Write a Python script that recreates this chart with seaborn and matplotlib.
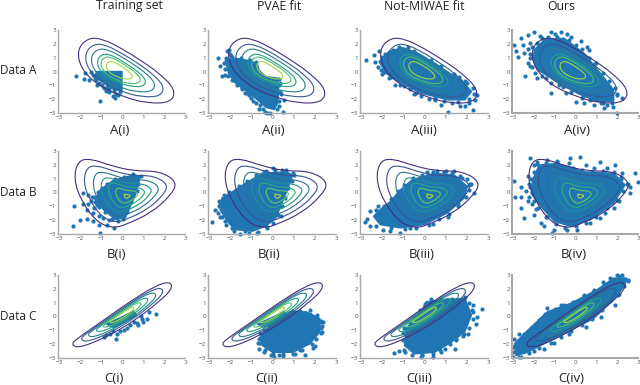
import numpy as np
import pandas as pd
import matplotlib
matplotlib.use("Agg")
import matplotlib.pyplot as plt
from matplotlib.path import Path
from matplotlib.patches import PathPatch
import seaborn as sns

sns.set_style("white")
plt.rcParams['font.family'] = ['Open Sans', 'DejaVu Sans']

COLUMN_TITLES = ["Training set", "PVAE fit", "Not-MIWAE fit", "Ours"]
ROW_LABELS = ["Data A", "Data B", "Data C"]
SUB_LABELS = [["A(i)", "A(ii)", "A(iii)", "A(iv)"],
              ["B(i)", "B(ii)", "B(iii)", "B(iv)"],
              ["C(i)", "C(ii)", "C(iii)", "C(iv)"]]
TICKS = [-3, -2, -1, 0, 1, 2, 3]

# density contours: outer outline, centre, and relative size of each level
A_OUTLINE = [(-2.15, 1.6), (-1.6, 2.45), (-.9, 2.35), (0.0, 1.65), (0.9, 0.8), (1.75, -0.1), (2.55, -1.3),
             (2.35, -2.25), (1.2, -2.3), (0.1, -1.85), (-1.05, -1.1), (-1.95, 0.15)]
A_CENTER = (-0.25, 0.1)
A_LEVELS = [1, .81, .66, .5, .41, .27]
B_OUTLINE = [(-2.3, 1.0), (-2.1, 2.3), (-1.5, 2.45), (-0.55, 1.95), (0.55, 1.55), (1.8, 1.55), (2.65, 0.75),
             (2.3, -0.25), (1.4, -1.45), (0.3, -2.25), (-0.4, -2.6), (-1.2, -2.15), (-1.95, -0.6)]
B_CENTER = (0.25, -0.28)
B_LEVELS = [1, .82, .65, .5, .36, .22, .06]
C_OUTLINE = [(-2.45, -2.0), (-2.05, -2.3), (-0.7, -1.45), (0.6, -0.3), (1.75, 1.05), (2.4, 2.0), (2.3, 2.55),
             (1.55, 2.2), (0.25, 0.95), (-1.05, -0.45), (-2.0, -1.45)]
C_CENTER = (0.0, 0.1)
C_LEVELS = [1, .82, .68, .52, .38, .24]

# dense part of each sample cloud (outline) and the separate points around it
A1_CORE = [(-1.2, 0), (0, 0), (0, -1.4), (-.4, -1.3), (-.9, -.8), (-1.3, -.3)]
A1_PTS = [(-2.2, -.3), (-1.8, -.55), (-1.55, -.6), (-1.75, -.1), (-1.5, -.05), (-1.4, -.25), (-1.3, -.5), (-1.25, -.65),
          (-1.1, -.8), (-1.2, -.95), (-.95, -1.0), (-.85, -1.2), (-.7, -1.1), (-1.05, -2.1), (-.75, -1.4), (-.6, -1.5),
          (-.4, -1.4), (-.45, -1.75), (-.3, -1.6), (-.1, -1.45), (-.35, -1.9), (-.2, -1.7), (-.6, -1.25)]
A2_CORE = [(-2.24, .84), (-1.76, .96), (-1.28, .84), (-.72, .6), (-.64, .1), (-.32, -.36), (.24, -.48), (.29, -1.3),
           (.24, -2.3), (.08, -2.75), (-.3, -2.6), (-.75, -2.0), (-1.35, -1.3), (-1.75, -.85), (-2.08, -.12)]
A2_PTS = [(-2.6, .94), (-2.5, .43), (-2.16, 1.45), (-2.08, 1.56), (-2.24, -.24), (-2.4, -.35), (-1.9, -.6), (-.24, -3),
          (.48, -2.9), (.32, -2.5), (-.64, -2.7), (-.8, -2.3), (-1.2, -1.56), (-1.44, -1.2), (.56, -2.05), (-2.0, 1.3),
          (-1.95, 1.1), (-1.1, -1.7), (.4, -1.6), (.35, -.8),
          (-2.2, 1.0), (-2.3, .6), (-2.25, .2), (-2.1, -.3), (-1.85, -.6), (-1.7, -1.0), (-1.45, -1.25), (-1.3, -1.55),
          (-1.0, -1.9), (-.9, -2.15), (-.6, -2.4), (-.45, -2.7), (-.35, -2.95), (-.1, -3), (.2, -2.7), (.3, -2.1),
          (.35, -1.5), (.32, -1), (.3, -.55), (-1.9, 1.05), (-1.5, .95), (-1.05, .8), (-.8, .7)]
A3_CORE = [(-2.15, .72), (-1.67, 1.45), (-1.03, 1.73), (-.32, 1.33), (.48, .6), (1.19, -.12), (1.75, -.6), (2.22, -1.45),
           (1.9, -2.05), (1.11, -2.05), (-.16, -1.57), (-1.27, -.72), (-1.83, -.12)]
A3_PTS = [(-2.78, .84), (-2.38, 1.2), (-2.15, 1.45), (-2.35, .7), (-2.07, .12), (-1.67, -.48), (-.95, -1.08), (-.16, -1.8),
          (.48, -2.05), (.8, -2.4), (1.11, -2.9), (1.67, -2.53), (1.9, -2.53), (2.3, -2.77), (2.47, -1.69), (2.39, -2.05),
          (1.43, -.48), (1.9, -.7), (-.5, -1.65), (.2, -2.0), (1.3, -2.3), (2.1, -2.25), (-1.4, -.95), (-1.9, .0),
          (-2.0, 1.05), (-1.85, 1.3), (-1.5, 1.55), (-1.2, 1.8), (-.8, 1.75), (-.5, 1.5), (.3, .85), (.8, .4), (1.4, -.2),
          (1.65, -.4), (2.0, -.85), (2.3, -1.2), (2.35, -1.6), (2.1, -2.0), (1.6, -2.2), (.9, -2.15), (.5, -1.95), (-.4, -1.55),
          (-.7, -1.3), (-1.15, -.95), (-1.6, -.4), (-2.0, -.15), (-2.2, .3)]
A4_CORE = [(-1.98, 1.57), (-1.5, 2.29), (-.55, 2.41), (.4, 1.33), (1.19, -.12), (1.83, -1.33), (1.83, -2.17), (1.03, -2.17),
           (.08, -1.57), (-1.03, -.6), (-1.83, .12), (-2.03, .84)]
A4_PTS = [(-2.97, 1.93), (-2.86, 1.45), (-2.78, 1.08), (-2.62, 2.41), (-2.3, 2.65), (-1.98, 2.89), (-1.2, 2.89), (-.71, 2.89),
          (-2.2, 2.05), (-2.46, 1.33), (-2.3, .6), (-2.43, -.31), (-1.83, -.48), (-1.2, -.84), (-1.2, -1.57), (-.48, -1.57),
          (0, -2.17), (.4, -2.29), (.71, -2.05), (1.35, -2.65), (1.98, -3), (2.22, -1.93), (1.8, -2.6), (1.2, -2.3),
          (.55, 1.8), (.63, 1.57), (.24, 2.17), (-.24, 2.53), (-1.7, 2.6), (-1.0, 2.7), (-2.3, 1.6), (-2.2, 1.0), (-2.1, .3),
          (-1.6, -.3), (-.8, -1.0), (.3, -1.9), (.9, -2.4), (1.5, -2.4), (2.0, -1.6), (1.0, .6), (-.4, 2.7), (-2.5, 1.9),
          (-2.2, 1.3), (-2.1, 1.75), (-1.85, 2.05), (-1.6, 2.4), (-1.3, 2.5), (-.9, 2.5), (-.3, 2.3), (0, 1.95), (.3, 1.6), (.65, 1.0),
          (.9, .55), (1.3, -.1), (1.6, -.7), (1.9, -1.2), (2.0, -1.7), (1.75, -2.3), (1.3, -2.25), (.75, -2.0), (.35, -1.75), (-.2, -1.5),
          (-.6, -1.15), (-1.4, -.5), (-1.95, -.1), (-2.2, .4)]
B1_CORE = [(-1.04, .19), (-.4, .9), (.56, 1.27), (.88, 1.15), (.64, -.17), (.16, -1.84), (-.32, -1.96), (-.88, -1.24), (-1.28, -.53)]
B1_PTS = [(-2.32, -2.44), (-2.29, -1), (-2, -2), (-1.87, -.05), (-1.6, -.15), (-1.85, -.8), (-1.5, -.65), (-1.65, -1.25),
          (-1.35, -1.1), (-1.65, -1.9), (-1.36, -2.08), (-1.12, -2.32), (-1.04, -2.9), (-.4, -2.6), (-.7, -2.32), (-1.1, -1.7),
          (-1.36, -1.45), (-.9, -1.85), (-1.45, -.3), (-1.6, -.8), (-.6, -2.0), (-1.2, -.9),
          (-1.15, .05), (-.95, .35), (-.7, .65), (-.35, 1.0), (.1, 1.15), (.5, 1.35), (.9, 1.2), (.75, .6), (.7, .1), (.45, -.7),
          (.25, -1.4), (.05, -1.9), (-.2, -2.05), (-.5, -1.9), (-.8, -1.4), (-1.1, -1.05), (-1.3, -.7), (-1.35, -.3)]
B2_CORE = [(-2.48, -1.24), (-2.4, -.41), (-2, -.05), (-1.28, .67), (-.48, 1.39), (.64, 1.5), (.96, 1.27), (.64, -.05),
           (.16, -1.84), (-.32, -2.44), (-.96, -2.8), (-1.76, -2.68), (-2.08, -2.2)]
B2_PTS = [(-2.88, -2.15), (-2.72, -1.24), (-2.56, -1.5), (-2.24, -2.08), (-1.92, -2.55), (-1.52, -3), (-1.12, -2.92), (-.72, -2.92),
          (-.32, -2.44), (0, 1.75), (.96, 1.39), (.64, 1.62), (-.3, 1.55), (-2.4, -1.8), (-2.5, -.8), (.4, -1.7),
          (-2.55, -1.0), (-2.55, -.6), (-2.3, -.2), (-2.05, .05), (-1.6, .45), (-1.2, .85), (-.8, 1.25), (-.4, 1.5), (.1, 1.6), (.45, 1.6),
          (1.0, 1.3), (.9, .8), (.75, .3), (.6, -.4), (.45, -1.0), (.25, -1.6), (0, -2.2), (-.25, -2.55), (-.7, -2.85), (-1.3, -2.8),
          (-1.8, -2.75), (-2.2, -2.35), (-2.5, -1.8)]
B3_CORE = [(-2.1, -1.24), (-1.62, -.65), (-1.14, .19), (-.59, .91), (.44, 1.39), (1.4, 1.27), (2.03, .43), (1.87, -.41),
           (1.08, -1.48), (0, -2.32), (-1.14, -2.56), (-2.1, -2.32), (-2.41, -1.72)]
B3_PTS = [(-2.81, -2.15), (-2.57, -1.36), (-2.57, -2.44), (-1.95, -2.7), (-1.62, -2.79), (-1.14, -2.9), (-.67, -2.55), (.13, 1.5),
          (.6, 1.58), (1.4, 1.58), (2.03, 1), (2.1, .55), (1.78, -.2), (2.35, .0), (2.2, .6), (1.7, 1.2), (1.0, 1.55), (.4, -2.3),
          (1.1, -1.8), (1.6, -1.0), (-2.7, -1.9), (-2.2, -.95),
          (-2.3, -1.3), (-1.9, -1.0), (-1.6, -.5), (-1.25, .1), (-.95, .55), (-.55, 1.05), (-.1, 1.3), (.4, 1.45), (.9, 1.45), (1.3, 1.4),
          (1.75, 1.05), (2.15, .6), (2.1, .2), (1.95, -.3), (1.6, -.85), (1.15, -1.55), (.7, -1.95), (.2, -2.35), (-.4, -2.55), (-.9, -2.65),
          (-1.6, -2.55), (-2.3, -2.4)]
B4_CORE = [(-2.06, .91), (-1.75, 1.99), (-.87, 2.1), (.4, 1.5), (1.83, 1.39), (2.38, .55), (1.83, -.77), (.71, -1.96),
           (-.24, -2.44), (-1.03, -2.08), (-1.67, -1), (-2.14, -.05)]
B4_PTS = [(-2.94, .86), (-2.89, -.29), (-2.62, -1.12), (-2.46, -1.84), (-2.17, 2.51), (-1.98, 1.99), (-2.62, .43), (-2.62, -.29),
          (-2.3, -.65), (-2.22, .65), (-1.83, 2.2), (-1.35, 2.34), (-.87, 2.3), (-.27, 2.46), (.21, 2.58), (1.19, 2.22), (1.9, 1.99),
          (2.86, 1.39), (3, .79), (2.62, -.05), (2.54, .65), (2.22, 1.39), (1.51, 1.75), (-1.03, -2.68), (-1.11, -2.92), (-.4, -2.68),
          (.08, -2.68), (-1.67, -2.2), (-1.98, -1.6), (.71, -2.2), (1.19, -1.84), (1.83, -1.12), (-1.5, -2.45), (.5, 2.0), (.9, 1.8),
          (-.3, 2.1), (2.2, 1.0), (2.6, .4), (-2.4, .1), (-2.1, -.8), (-1.9, -1.2), (-1.4, -1.8), (2.1, -.6), (1.4, -1.5), (-2.3, 1.2),
          (-2.2, .4), (-2.15, 1.0), (-2, 1.5), (-1.85, 2.05), (-1.4, 2.15), (-.9, 2.2), (-.5, 1.85), (-.1, 1.75), (.3, 1.6), (.8, 1.5),
          (1.3, 1.55), (1.85, 1.5), (2.2, 1.1), (2.45, .6), (2.3, .1), (2.0, -.55), (1.5, -1.15), (1, -1.75), (.5, -2.2), (0, -2.45),
          (-.5, -2.55), (-.95, -2.25), (-1.35, -1.75), (-1.8, -1.15), (-2.0, -.6), (-2.25, -.3)]
C1_CORE = [(-.75, -.55), (-.1, -.1), (.55, .4), (.7, .1), (.2, -.35), (-.4, -.8)]
C1_PTS = [(1.62, .2), (1.27, .3), (1.19, -.15), (.95, -.15), (.71, -.5), (.75, -.65), (.4, -.63), (.08, -1), (-.24, -1.24), (-.27, -1.6),
          (-.55, -1.24), (-.75, -1.37), (-.87, -1.5), (1.0, -.4), (.55, -.4), (.25, -.85), (-.1, -1.05), (-.45, -1.05), (.9, .05)]
C2_CORE = [(-.56, -1.37), (0, -.51), (.8, .34), (1.6, .34), (2.24, -.15), (2.24, -1.12), (1.76, -1.98), (.96, -2.59), (0, -2.59), (-.48, -2.1)]
C2_LINE = [(-.75, -.55), (-.1, -.1), (.55, .4), (.7, .1), (.2, -.35), (-.4, -.8)]
C2_PTS = [(-.4, -2.59), (-.08, -2.8), (.08, -2.95), (.48, -2.83), (1.04, -2.7), (1.52, -2.78), (-.64, -2.34), (-.64, -1.6), (1.76, .46),
          (2, -2.1), (1.1, .3), (2.24, -.4), (2.4, -.4), (2.3, -.8), (2.35, -1.1), (1.9, -2.25), (.3, -2.75), (1.3, -2.45), (-.7, -1.95),
          (-.6, -1.2), (-.4, -.95), (-.15, -.6), (.2, -.3), (.5, .1), (.9, .4), (1.3, .4), (1.75, .2), (2.1, .1), (2.3, -.3), (2.35, -.7),
          (2.3, -1.2), (2.05, -1.6), (1.85, -2), (1.4, -2.4), (.95, -2.7), (.5, -2.7), (0, -2.7), (-.35, -2.4), (-.6, -1.9), (-.6, -1.55)]
C3_CORE = [(-.87, -.88), (-.16, .34), (.08, 1.07), (.95, 1.2), (1.9, 1.32), (2.22, .1), (1.9, -1.12), (1.27, -1.85), (.48, -2.59),
           (-.48, -2.7), (-.95, -2.1)]
C3_PTS = [(-1.43, -2.63), (-1.19, -2.46), (-.16, -2.95), (.4, -2.9), (2.7, .51), (2.46, -.02), (2.3, .83), (2.41, -.51), (2.06, -1.24),
          (1.9, 1.44), (1.43, -2.34), (.95, -2.34), (1.5, -1.6), (1.8, -1.4), (2.3, .3), (-.1, -2.8), (.8, -2.6), (-.9, -2.6),
          (-.95, -.8), (-.75, -.4), (-.45, -.05), (-.2, .45), (0, .9), (.3, 1.25), (.8, 1.3), (1.3, 1.3), (1.85, 1.3), (2.1, .95), (2.25, .5),
          (2.3, -.2), (2.1, -.8), (1.85, -1.3), (1.5, -1.7), (1.2, -2), (.75, -2.45), (.4, -2.7), (-.1, -2.75), (-.6, -2.75), (-.95, -2.4),
          (-1.0, -1.7), (-1.0, -1.2)]
C4_CORE = [(-2.94, -1.98), (-2.3, -1), (-1.35, .34), (-.24, .95), (1.03, 1.93), (1.83, 2.78), (2.46, 2.78), (2.38, 2.29), (1.83, 1.2),
           (.87, -.15), (-.24, -1), (-1.35, -1.85), (-2.3, -2.59), (-2.86, -2.83)]
C4_PTS = [(-3, -2.95), (-3, -2.2), (-2.97, -1.6), (-2.46, -1.37), (-1.98, -2.46), (-1.5, -2.34), (-1.03, -1.9), (2.54, 2.66), (2.22, 3),
          (1.67, 2.78), (1.9, .83), (1.5, 1.3), (.87, 1.93), (.4, 1.56), (-.71, .83), (-1.35, .58), (-2.1, -.8), (-1.6, -.1), (-.3, -1.25),
          (.5, -.75), (1.2, -.05), (2.1, 1.6), (2.0, 3.0), (1.3, 2.5), (-2.7, -1.3), (-2.6, -2.9),
          (-2.75, -1.75), (-2.45, -1.25), (-2.1, -.75), (-1.75, -.25), (-1.45, .2), (-1, .55), (-.55, .85), (-.1, 1.05), (.4, 1.45), (.85, 1.8),
          (1.35, 2.25), (1.7, 2.65), (2.1, 2.9), (2.5, 2.55), (2.35, 2.2), (2.05, 1.55), (1.65, 1.1), (1.25, .5), (.8, -.2), (.3, -.6), (-.2, -1.05),
          (-.7, -1.45), (-1.2, -1.95), (-1.75, -2.3), (-2.25, -2.65), (-2.7, -2.9), (-3, -2.6)]

CORES = [[A1_CORE, A2_CORE, A3_CORE, A4_CORE], [B1_CORE, B2_CORE, B3_CORE, B4_CORE], [C1_CORE, C2_CORE, C3_CORE, C4_CORE]]
POINTS = [[A1_PTS, A2_PTS, A3_PTS, A4_PTS], [B1_PTS, B2_PTS, B3_PTS, B4_PTS], [C1_PTS, C2_PTS, C3_PTS, C4_PTS]]
OUTLINES = [A_OUTLINE, B_OUTLINE, C_OUTLINE]
CENTERS = [A_CENTER, B_CENTER, C_CENTER]
LEVELS = [A_LEVELS, B_LEVELS, C_LEVELS]

BLUE = "#2076b3"
W, H = 640, 385
ROW_TOPS = [(30, 113), (151, 234), (275, 358)]
COL_X = [(58, 185), (208, 336), (360, 488), (512, 638)]
SUB_X = [[120, 273, 424, 577], [117, 269, 422, 574], [114, 267, 419, 571]]
SUB_Y = [130, 254, 379]
ROW_Y = [70, 193, 317]
TITLE_X = [129, 279, 424, 561]

fig = plt.figure(figsize=(W / 100, H / 100), dpi=100, facecolor="white")


def closed_curve(points, center, k):
    p = np.asarray(center) + (np.asarray(points) - np.asarray(center)) * k
    mids = (p + np.roll(p, -1, axis=0)) / 2
    verts = [mids[-1]]
    codes = [Path.MOVETO]
    for i in range(len(p)):
        verts += [p[i], mids[i]]
        codes += [Path.CURVE3, Path.CURVE3]
    return Path(verts, codes)


for r, (top, bot) in enumerate(ROW_TOPS):
    for c, (xl, xr) in enumerate(COL_X):
        ax = fig.add_axes([xl / W, 1 - bot / H, (xr - xl) / W, (bot - top) / H])
        core = np.array(CORES[r][c])
        ax.fill(core[:, 0], core[:, 1], color=BLUE, lw=1.0, zorder=1)
        if r == 2 and c == 1:
            line = np.array(C2_LINE)
            ax.fill(line[:, 0], line[:, 1], color=BLUE, lw=0.5, zorder=1)
        pts = pd.DataFrame(POINTS[r][c], columns=["x", "y"])
        sns.scatterplot(data=pts, x="x", y="y", ax=ax, color=BLUE, s=9, linewidth=0, zorder=2, clip_on=False)
        levels = LEVELS[r]
        colours = sns.color_palette("viridis", len(levels))
        for k, col in zip(levels, colours):
            ax.add_patch(PathPatch(closed_curve(OUTLINES[r], CENTERS[r], k), fill=False, ec=col, lw=0.8, zorder=3))
        ax.set_xlim(-3.05, 3)
        ax.set_ylim(-3, 3)
        ax.set_xticks(TICKS)
        ax.set_yticks(TICKS)
        ax.set_xlabel("")
        ax.set_ylabel("")
        ax.tick_params(labelsize=4.5, colors="#555555", length=0, pad=1.5)
        ax.set_facecolor("none")
        sns.despine(ax=ax)
        lw = 1.5 if c == 3 else 1.0
        for s in ("left", "bottom"):
            ax.spines[s].set_color("#a8a8a8")
            ax.spines[s].set_linewidth(lw)
        fig.text(SUB_X[r][c] / W, 1 - SUB_Y[r] / H, SUB_LABELS[r][c], ha="center", va="center", fontsize=9.5, color="#222222")
    fig.text(0, 1 - ROW_Y[r] / H, ROW_LABELS[r], ha="left", va="center", fontsize=8.5, color="#222222")

for c, t in enumerate(COLUMN_TITLES):
    fig.text(TITLE_X[c] / W, 1 - 6 / H, t, ha="center", va="center", fontsize=8.8, color="#222222")

fig.savefig("out.png", dpi=100)
